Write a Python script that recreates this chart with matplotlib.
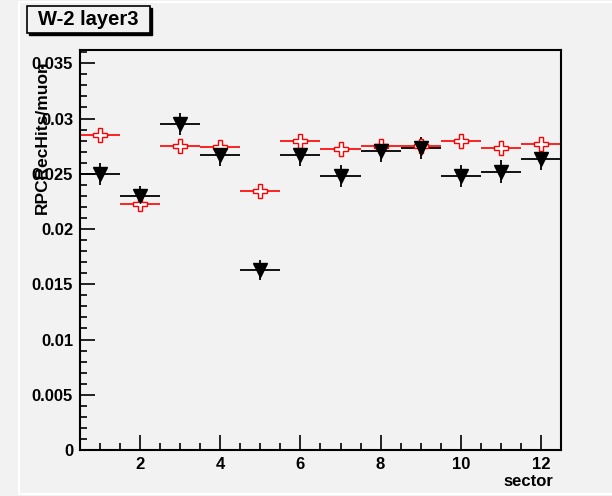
import matplotlib.pyplot as plt
from matplotlib.lines import Line2D
from matplotlib.patches import Rectangle
from matplotlib.ticker import MultipleLocator

plt.rcParams['font.family'] = ['Liberation Sans', 'DejaVu Sans']
plt.rcParams['font.weight'] = 'bold'

# values
sectors = [1, 2, 3, 4, 5, 6, 7, 8, 9, 10, 11, 12]
black_vals = [0.0250, 0.0230, 0.0295, 0.0267, 0.0163, 0.0267,
              0.0248, 0.0271, 0.0273, 0.0248, 0.0252, 0.0263]
black_errs = [0.0010, 0.0009, 0.0010, 0.0010, 0.0009, 0.0010,
              0.0010, 0.0010, 0.0010, 0.0010, 0.0010, 0.0010]
red_vals = [0.0285, 0.0223, 0.0275, 0.0274, 0.0234, 0.0280,
            0.0272, 0.0275, 0.0275, 0.0280, 0.0273, 0.0277]
bin_half = [0.5] * 12

bg = '#f2f2f2'
fig = plt.figure(figsize=(6.12, 4.96), dpi=100, facecolor=bg)
ax = fig.add_axes([80 / 612, 46 / 496, 481 / 612, 400 / 496], facecolor=bg)

ax.errorbar(sectors, red_vals, xerr=bin_half, fmt='P', color='red',
            markerfacecolor='white', markeredgecolor='red', markersize=10,
            markeredgewidth=1.0, elinewidth=1.2, capsize=0)
ax.errorbar(sectors, black_vals, xerr=bin_half, yerr=black_errs, fmt='v',
            color='black', markersize=10, elinewidth=1.3, capsize=0)

ax.set_xlim(0.5, 12.5)
ax.set_ylim(0, 0.0362)
ax.xaxis.set_major_locator(MultipleLocator(2))
ax.xaxis.set_minor_locator(MultipleLocator(0.5))
ax.yaxis.set_major_locator(MultipleLocator(0.005))
ax.yaxis.set_minor_locator(MultipleLocator(0.001))
ax.yaxis.set_major_formatter(plt.FuncFormatter(lambda v, p: '0' if v == 0 else ('%.3f' % v).rstrip('0')))
ax.tick_params(which='both', direction='in', top=False, right=False,
               labelsize=12, width=1.2, pad=5)
ax.tick_params(which='major', length=11)
ax.tick_params(which='minor', length=5)
for s in ax.spines.values():
    s.set_linewidth(1.5)

fig.text(42 / 612, 1 - 60 / 496, 'RPCRecHits/muon', rotation=90,
         ha='center', va='top', fontsize=12.5, fontweight='bold')
fig.text(553 / 612, 14 / 496, 'sector', ha='right', va='center',
         fontsize=12, fontweight='bold')

# title box with shadow
fig.patches.append(Rectangle((29 / 612, 1 - 35 / 496), 123 / 612, 27 / 496,
                             transform=fig.transFigure, facecolor='black',
                             edgecolor='black', zorder=1))
fig.patches.append(Rectangle((27 / 612, 1 - 33 / 496), 123 / 612, 27 / 496,
                             transform=fig.transFigure, facecolor=bg,
                             edgecolor='black', linewidth=1.2, zorder=2))
fig.text(88 / 612, 1 - 19.5 / 496, 'W-2 layer3', ha='center', va='center',
         fontsize=14.5, fontweight='bold', zorder=3)

# white frame lines
fig.lines.append(Line2D([19 / 612, 19 / 612], [2 / 496, 1 - 2 / 496],
                        transform=fig.transFigure, color='white', lw=1.5))
fig.lines.append(Line2D([19 / 612, 1], [2 / 496, 2 / 496],
                        transform=fig.transFigure, color='white', lw=1.5))
fig.lines.append(Line2D([19 / 612, 1], [1 - 2 / 496, 1 - 2 / 496],
                        transform=fig.transFigure, color='white', lw=1.5))

fig.savefig('out.png', dpi=100, facecolor=bg)
